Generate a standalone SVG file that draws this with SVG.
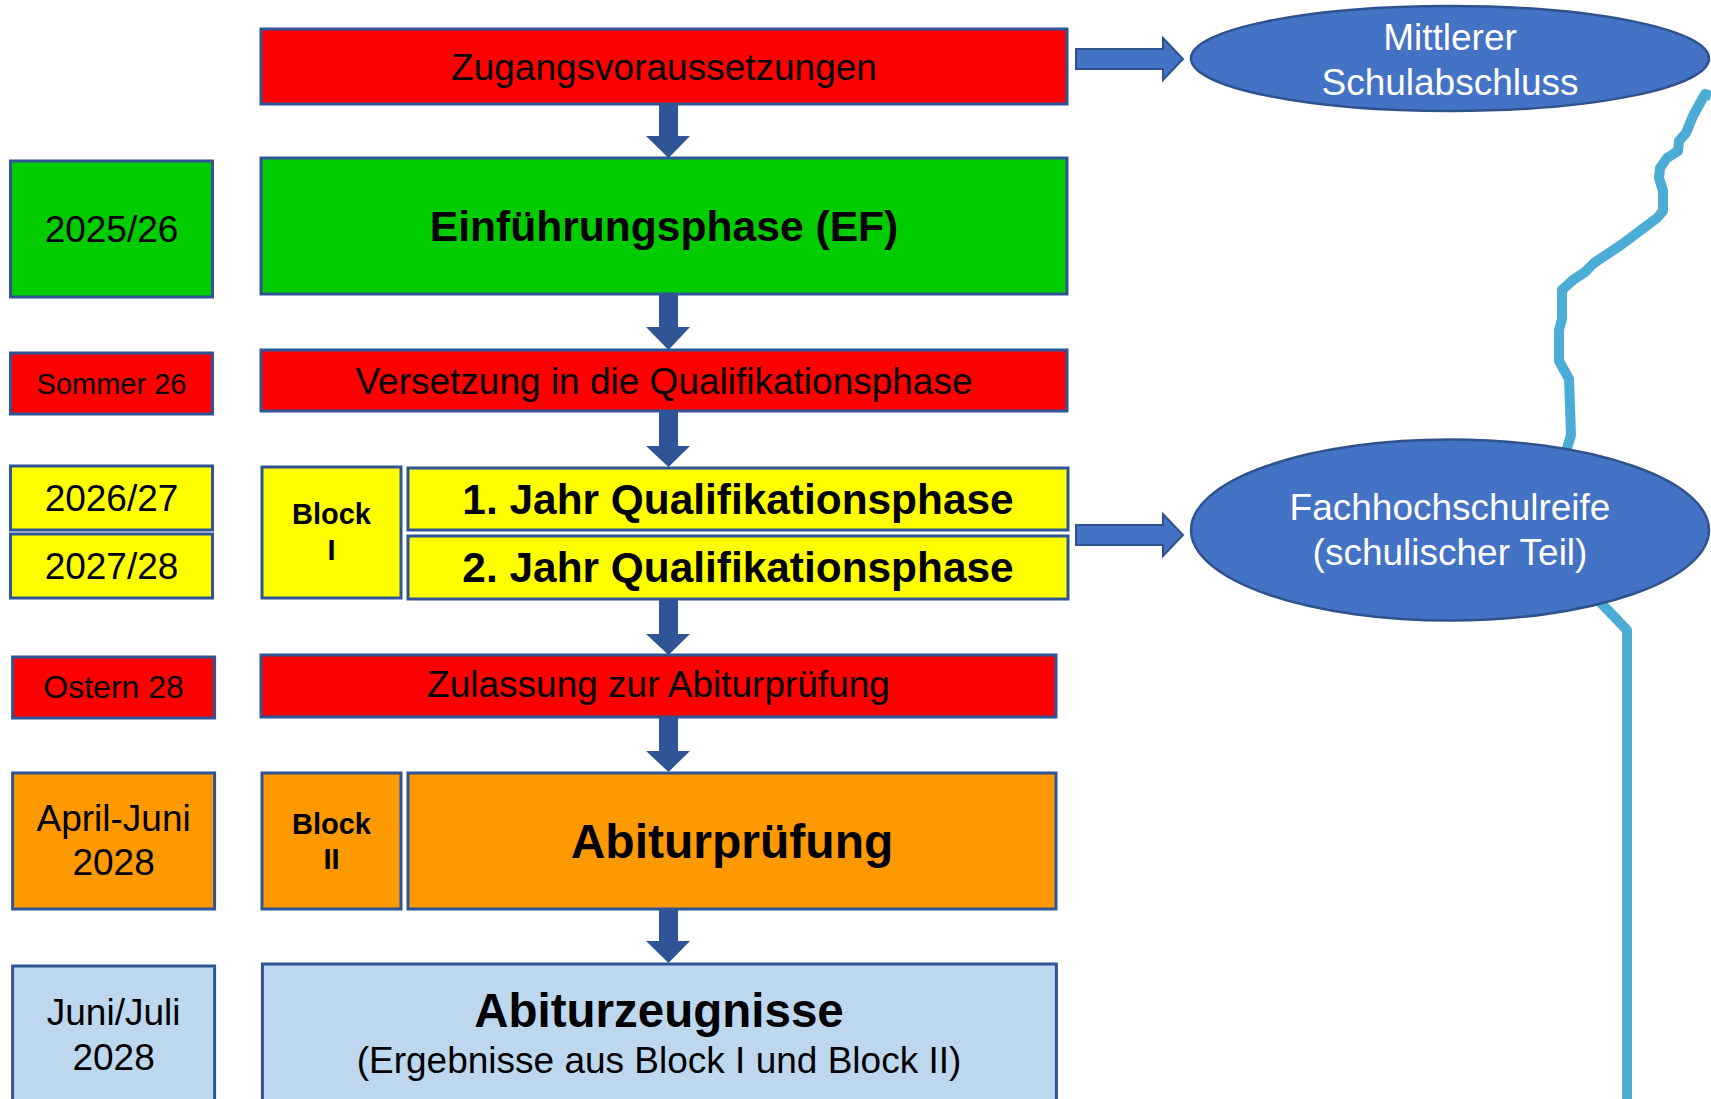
<svg xmlns="http://www.w3.org/2000/svg" width="1711" height="1099" viewBox="0 0 1711 1099">
<style>
.box{stroke:#2F5597;stroke-width:3}
.red{fill:#FF0000}.green{fill:#00CC00}.yellow{fill:#FFFF00}.orange{fill:#FF9900}.lblue{fill:#BDD7EE}
.t{font-family:"Liberation Sans",Arial,sans-serif;fill:#000;text-anchor:middle}
.b{font-weight:bold}
.w{fill:#FFFFFF}
.ell{fill:#4472C4;stroke:#2F528F;stroke-width:2.5}
.arr{fill:#2F5597}
.rarr{fill:#4472C4;stroke:#2F528F;stroke-width:2}
</style>
<rect width="1711" height="1099" fill="#FFFFFF"/>
<path d="M1711,96 L1705,94 L1693,116 L1686,133 L1679,141 L1678,151 L1667,158 L1660,168 L1659,178 L1663,191 L1663,211 L1657,218 L1621,245 L1594,263 L1585,272 L1573,280 L1562,290 L1562,319 L1559,330 L1559,361 L1569,379 L1571,435 L1565,455 M1600,602 L1627,630 L1627,1099" fill="none" stroke="#4BACD6" stroke-width="10" stroke-linejoin="round"/>
<g id="connectors">
<polygon class="arr" points="659,104 678,104 678,136 690,136 668.5,158 646,136 659,136"/>
<polygon class="arr" points="659,294 678,294 678,327 690,327 668.5,350 646,327 659,327"/>
<polygon class="arr" points="659,411 678,411 678,446 690,446 668.5,467 646,446 659,446"/>
<polygon class="arr" points="659,599 678,599 678,634 690,634 668.5,655 646,634 659,634"/>
<polygon class="arr" points="659,717 678,717 678,751 690,751 668.5,772 646,751 659,751"/>
<polygon class="arr" points="659,909 678,909 678,941 690,941 668.5,963 646,941 659,941"/>
<polygon class="rarr" points="1076,49 1163,49 1163,38 1183,59 1163,80 1163,69 1076,69"/>
<polygon class="rarr" points="1076,525 1163,525 1163,514 1183,535 1163,556 1163,545 1076,545"/>
</g>
<g id="zugang"><rect class="box red" x="261" y="29" width="806" height="75"/><text class="t" x="664" y="80" font-size="37">Zugangsvoraussetzungen</text></g>
<g id="mittlerer"><ellipse class="ell" cx="1450" cy="58.5" rx="259" ry="52.5"/><text class="t w" x="1450" y="50" font-size="37">Mittlerer</text><text class="t w" x="1450" y="95" font-size="37">Schulabschluss</text></g>
<g id="y2025"><rect class="box green" x="10.5" y="161" width="202" height="136"/><text class="t" x="111.5" y="242" font-size="37">2025/26</text></g>
<g id="ef"><rect class="box green" x="261" y="158" width="806" height="136"/><text class="t b" x="664" y="241" font-size="42.6">Einführungsphase (EF)</text></g>
<g id="sommer"><rect class="box red" x="10.5" y="353" width="202" height="61"/><text class="t" x="111.5" y="394" font-size="29">Sommer 26</text></g>
<g id="versetzung"><rect class="box red" x="261" y="350" width="806" height="61"/><text class="t" x="664" y="394" font-size="37">Versetzung in die Qualifikationsphase</text></g>
<g id="y2026"><rect class="box yellow" x="10.5" y="466" width="202" height="64"/><text class="t" x="111.5" y="511" font-size="37">2026/27</text></g>
<g id="y2027"><rect class="box yellow" x="10.5" y="534" width="202" height="64"/><text class="t" x="111.5" y="579" font-size="37">2027/28</text></g>
<g id="blockI"><rect class="box yellow" x="262" y="467" width="139" height="131"/><text class="t b" x="331.5" y="524" font-size="29">Block</text><text class="t b" x="331.5" y="560" font-size="29">I</text></g>
<g id="q1"><rect class="box yellow" x="408" y="468" width="660" height="62"/><text class="t b" x="738" y="514" font-size="42.4">1. Jahr Qualifikationsphase</text></g>
<g id="q2"><rect class="box yellow" x="408" y="536" width="660" height="63"/><text class="t b" x="738" y="582" font-size="42.4">2. Jahr Qualifikationsphase</text></g>
<g id="fhr"><ellipse class="ell" cx="1450" cy="530" rx="259" ry="90.5"/><text class="t w" x="1450" y="520" font-size="37">Fachhochschulreife</text><text class="t w" x="1450" y="565" font-size="37">(schulischer Teil)</text></g>
<g id="ostern"><rect class="box red" x="12.6" y="657" width="202" height="61"/><text class="t" x="113.6" y="698" font-size="32">Ostern 28</text></g>
<g id="zulassung"><rect class="box red" x="261" y="655" width="795" height="62"/><text class="t" x="658.5" y="697" font-size="37">Zulassung zur Abiturprüfung</text></g>
<g id="april"><rect class="box orange" x="12.6" y="773" width="202" height="136"/><text class="t" x="113.6" y="831" font-size="37">April-Juni</text><text class="t" x="113.6" y="875" font-size="37">2028</text></g>
<g id="blockII"><rect class="box orange" x="262" y="773" width="139" height="136"/><text class="t b" x="331.5" y="834" font-size="29">Block</text><text class="t b" x="331.5" y="869" font-size="29">II</text></g>
<g id="abi"><rect class="box orange" x="408" y="773" width="648" height="136"/><text class="t b" x="732" y="858" font-size="48">Abiturprüfung</text></g>
<g id="juni"><rect class="box lblue" x="12.6" y="966" width="202" height="140"/><text class="t" x="113.6" y="1025" font-size="37">Juni/Juli</text><text class="t" x="113.6" y="1070" font-size="37">2028</text></g>
<g id="zeugnis"><rect class="box lblue" x="262.4" y="964" width="794" height="140"/><text class="t b" x="659" y="1027" font-size="47.5">Abiturzeugnisse</text><text class="t" x="659" y="1073" font-size="37">(Ergebnisse aus Block I und Block II)</text></g>
</svg>
